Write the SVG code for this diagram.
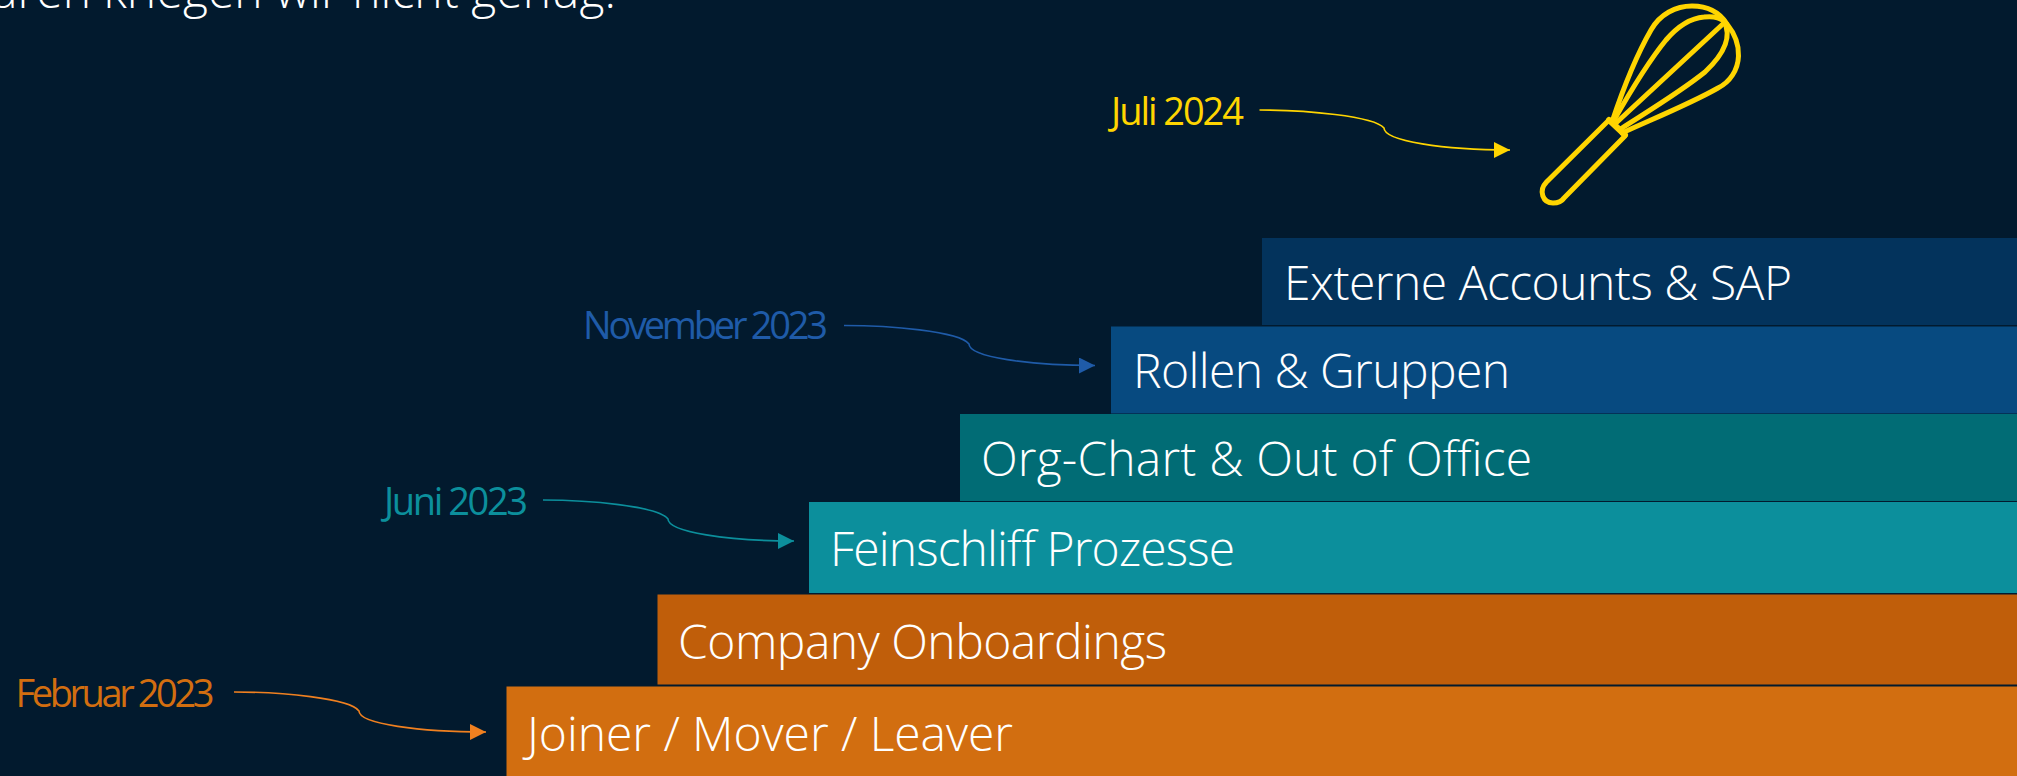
<svg xmlns="http://www.w3.org/2000/svg" width="2017" height="776" viewBox="0 0 2017 776">
<style>
.b{font-family:"Open Sans","Noto Sans",sans-serif;font-weight:300;font-size:48px;fill:#fff}
.d{font-family:"Open Sans","Noto Sans",sans-serif;font-size:38px}
.c{fill:none;stroke-width:1.6}
</style>
<defs>
<marker id="ao" markerUnits="userSpaceOnUse" markerWidth="16" markerHeight="16" refX="16" refY="8" orient="auto"><path d="M0 0L16 8L0 16Z" fill="#f08020"/></marker>
<marker id="at" markerUnits="userSpaceOnUse" markerWidth="16" markerHeight="16" refX="16" refY="8" orient="auto"><path d="M0 0L16 8L0 16Z" fill="#0c8f9c"/></marker>
<marker id="ab" markerUnits="userSpaceOnUse" markerWidth="16" markerHeight="16" refX="16" refY="8" orient="auto"><path d="M0 0L16 8L0 16Z" fill="#1f5ba8"/></marker>
<marker id="ay" markerUnits="userSpaceOnUse" markerWidth="16" markerHeight="16" refX="16" refY="8" orient="auto"><path d="M0 0L16 8L0 16Z" fill="#ffd500"/></marker>
</defs>
<rect width="2017" height="776" fill="#021a2e"/>
<text x="-8" y="8" font-family="Open Sans,sans-serif" font-size="48" font-weight="300" fill="#fff" textLength="624">aren kriegen wir nicht genug.</text>
<g id="joiner"><rect x="506.500" y="686.500" width="1511" height="90" fill="#d26e10"/><text class="b" x="527" y="751" textLength="486">Joiner / Mover / Leaver</text></g>
<g id="company"><rect x="657.500" y="594.500" width="1360" height="90" fill="#c05e0a"/><text class="b" x="678" y="659" textLength="489">Company Onboardings</text></g>
<g id="feinschliff"><rect x="809" y="502" width="1208" height="91" fill="#0c8f9c"/><text class="b" x="830" y="566" textLength="405">Feinschliff Prozesse</text></g>
<g id="orgchart"><rect x="960" y="414" width="1057" height="87" fill="#016c75"/><text class="b" x="981" y="476" textLength="551">Org-Chart &amp; Out of Office</text></g>
<g id="rollen"><rect x="1111" y="326.500" width="906" height="87" fill="#074a80"/><text class="b" x="1133" y="388" textLength="377">Rollen &amp; Gruppen</text></g>
<g id="externe"><rect x="1262" y="238" width="755" height="87" fill="#03335c"/><text class="b" x="1284" y="300" textLength="508">Externe Accounts &amp; SAP</text></g>
<g id="whisk" fill="none" stroke="#ffd500" stroke-width="5" stroke-linejoin="round" stroke-linecap="round">
<path d="M1609 120L1546.500 182C1538 191 1543 203 1553 203C1558 203 1562 201 1564 198L1625 136L1623 132Z"/>
<path d="M1609 120L1625 135" stroke-width="6"/>
<path d="M1612 122C1622 92 1636 56 1651 30C1660 14 1676 6 1692 6C1708 6 1720 13 1727 24C1735 34 1739 44 1738.500 56C1738 70 1730 82 1718 88C1690 104 1650 120 1622 133"/>
<path d="M1613 122C1630 92 1648 62 1666 40C1678 26 1692 18 1704 17C1712 16 1719 17 1724 21"/>
<path d="M1616 123L1725 22"/>
<path d="M1622 128C1650 110 1680 92 1705 72C1722 56 1733 38 1724 21"/>
</g>
<g id="labels">
<text class="d" x="15.500" y="707" fill="#d26e10" textLength="199">Februar 2023</text>
<text class="d" x="384" y="515" fill="#0c8f9c" textLength="144">Juni 2023</text>
<text class="d" x="583" y="339" fill="#1f5ba8" textLength="245">November 2023</text>
<text class="d" x="1111" y="125" fill="#ffd500" textLength="133">Juli 2024</text>
</g>
<g id="connectors" class="c">
<path class="c" stroke="#f08020" marker-end="url(#ao)" d="M234 692C280 692 350 698 359 711C359 724 420 732 486 732"/>
<path class="c" stroke="#0c8f9c" marker-end="url(#at)" d="M543 500C588 500 658 506 668 519C668 532 728 541 794 541"/>
<path class="c" stroke="#1f5ba8" marker-end="url(#ab)" d="M844 325.500C889 325.500 959 331 969 344C969 357 1029 365.500 1095 365.500"/>
<path class="c" stroke="#ffd500" marker-end="url(#ay)" d="M1259.500 110C1305 110 1374 116 1384 128C1384 141 1444 150 1510 150"/>
</g>
</svg>
